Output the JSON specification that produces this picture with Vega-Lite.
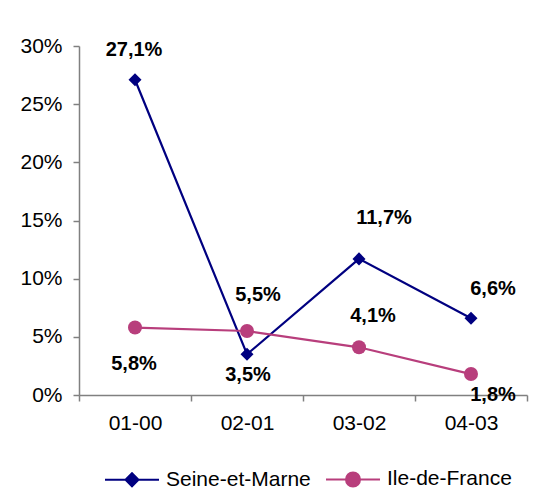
{
  "$schema": "https://vega.github.io/schema/vega-lite/v6.json",
  "width": 448,
  "height": 349,
  "autosize": {"type": "none"},
  "padding": {"left": 79, "top": 46, "right": 12, "bottom": 101},
  "background": "white",
  "config": {
    "font": "Liberation Sans",
    "locale": {"number": {"decimal": ",", "thousands": " ", "grouping": [3], "currency": ["", " €"]}},
    "view": {"stroke": null},
    "axis": {
      "labelFont": "Liberation Sans",
      "labelFontSize": 21,
      "labelColor": "#000000",
      "domainColor": "#808080",
      "tickColor": "#808080",
      "domainWidth": 1.5,
      "tickWidth": 1.5,
      "grid": false,
      "title": null
    }
  },
  "data": {
    "values": [
      {"period": "01-00", "series": "Seine-et-Marne", "value": 0.271},
      {"period": "02-01", "series": "Seine-et-Marne", "value": 0.035},
      {"period": "03-02", "series": "Seine-et-Marne", "value": 0.117},
      {"period": "04-03", "series": "Seine-et-Marne", "value": 0.066},
      {"period": "01-00", "series": "Ile-de-France", "value": 0.058},
      {"period": "02-01", "series": "Ile-de-France", "value": 0.055},
      {"period": "03-02", "series": "Ile-de-France", "value": 0.041},
      {"period": "04-03", "series": "Ile-de-France", "value": 0.018}
    ]
  },
  "encoding": {
    "x": {
      "field": "period",
      "type": "ordinal",
      "bandPosition": 0.5,
      "scale": {"type": "band", "paddingInner": 0, "paddingOuter": 0},
      "axis": {"labelAngle": 0, "tickBand": "extent", "tickSize": 6, "labelPadding": 11, "title": null}
    },
    "y": {
      "field": "value",
      "type": "quantitative",
      "scale": {"domain": [0, 0.3], "nice": false},
      "axis": {"values": [0, 0.05, 0.1, 0.15, 0.2, 0.25, 0.3], "format": ".0%", "tickSize": 6, "labelPadding": 11, "title": null}
    }
  },
  "layer": [
    {
      "mark": {"type": "line", "strokeWidth": 2.2},
      "encoding": {
        "color": {
          "field": "series",
          "type": "nominal",
          "sort": ["Seine-et-Marne", "Ile-de-France"],
          "scale": {"domain": ["Seine-et-Marne", "Ile-de-France"], "range": ["#000080", "#B83E7C"]},
          "legend": {
            "orient": "none",
            "legendX": 25,
            "legendY": 405,
            "direction": "horizontal",
            "title": null,
            "padding": 0,
            "labelFont": "Liberation Sans",
            "labelFontSize": 21,
            "labelColor": "#000000",
            "symbolSize": 2916,
            "symbolStrokeWidth": 2,
            "columnPadding": 11,
            "labelOffset": 6,
            "encode": {
              "symbols": {
                "update": {
                  "shape": {"signal": "datum.value === 'Seine-et-Marne' ? 'M-1,0L1,0M-0.24,0L0,-0.24L0.24,0L0,0.24Z' : 'M-1,0L1,0M0.26,0A0.26,0.26,0,1,1,-0.26,0A0.26,0.26,0,1,1,0.26,0Z'"},
                  "fill": {"signal": "datum.value === 'Seine-et-Marne' ? '#000080' : '#B83E7C'"},
                  "stroke": {"signal": "datum.value === 'Seine-et-Marne' ? '#000080' : '#B83E7C'"},
                  "strokeWidth": {"value": 2}
                }
              }
            }
          }
        },
        "order": {"field": "period"}
      }
    },
    {
      "transform": [{"filter": "datum.series == 'Seine-et-Marne'"}],
      "mark": {"type": "point", "shape": "diamond", "filled": true, "size": 170, "color": "#000080", "opacity": 1}
    },
    {
      "transform": [{"filter": "datum.series == 'Ile-de-France'"}],
      "mark": {"type": "point", "shape": "circle", "filled": true, "size": 196, "color": "#B83E7C", "opacity": 1}
    },
    {
      "transform": [{"filter": "datum.series == 'Seine-et-Marne' && datum.period == '01-00'"}],
      "mark": {"type": "text", "fontWeight": "bold", "fontSize": 20, "color": "#000000", "baseline": "middle", "align": "center", "dx": -1, "dy": -30},
      "encoding": {"text": {"field": "value", "type": "quantitative", "format": ".1%"}}
    },
    {
      "transform": [{"filter": "datum.series == 'Seine-et-Marne' && datum.period == '02-01'"}],
      "mark": {"type": "text", "fontWeight": "bold", "fontSize": 20, "color": "#000000", "baseline": "middle", "align": "center", "dx": 1, "dy": 21},
      "encoding": {"text": {"field": "value", "type": "quantitative", "format": ".1%"}}
    },
    {
      "transform": [{"filter": "datum.series == 'Seine-et-Marne' && datum.period == '03-02'"}],
      "mark": {"type": "text", "fontWeight": "bold", "fontSize": 20, "color": "#000000", "baseline": "middle", "align": "center", "dx": 25, "dy": -41},
      "encoding": {"text": {"field": "value", "type": "quantitative", "format": ".1%"}}
    },
    {
      "transform": [{"filter": "datum.series == 'Seine-et-Marne' && datum.period == '04-03'"}],
      "mark": {"type": "text", "fontWeight": "bold", "fontSize": 20, "color": "#000000", "baseline": "middle", "align": "center", "dx": 22, "dy": -29},
      "encoding": {"text": {"field": "value", "type": "quantitative", "format": ".1%"}}
    },
    {
      "transform": [{"filter": "datum.series == 'Ile-de-France' && datum.period == '01-00'"}],
      "mark": {"type": "text", "fontWeight": "bold", "fontSize": 20, "color": "#000000", "baseline": "middle", "align": "center", "dx": -1, "dy": 36},
      "encoding": {"text": {"field": "value", "type": "quantitative", "format": ".1%"}}
    },
    {
      "transform": [{"filter": "datum.series == 'Ile-de-France' && datum.period == '02-01'"}],
      "mark": {"type": "text", "fontWeight": "bold", "fontSize": 20, "color": "#000000", "baseline": "middle", "align": "center", "dx": 11, "dy": -36},
      "encoding": {"text": {"field": "value", "type": "quantitative", "format": ".1%"}}
    },
    {
      "transform": [{"filter": "datum.series == 'Ile-de-France' && datum.period == '03-02'"}],
      "mark": {"type": "text", "fontWeight": "bold", "fontSize": 20, "color": "#000000", "baseline": "middle", "align": "center", "dx": 14, "dy": -31},
      "encoding": {"text": {"field": "value", "type": "quantitative", "format": ".1%"}}
    },
    {
      "transform": [{"filter": "datum.series == 'Ile-de-France' && datum.period == '04-03'"}],
      "mark": {"type": "text", "fontWeight": "bold", "fontSize": 20, "color": "#000000", "baseline": "middle", "align": "center", "dx": 22, "dy": 21},
      "encoding": {"text": {"field": "value", "type": "quantitative", "format": ".1%"}}
    }
  ]
}
